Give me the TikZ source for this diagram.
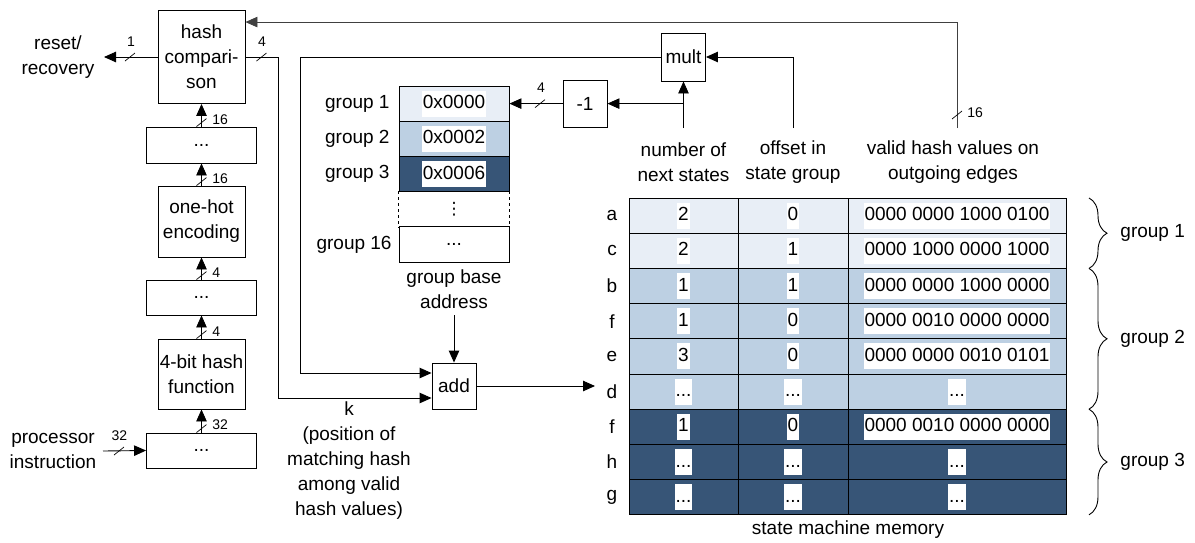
\documentclass[tikz,border=0pt]{standalone}
\usepackage{fontspec}
\setmainfont{Liberation Sans}
\newfontfamily\dejavu{DejaVu Sans}
\usetikzlibrary{arrows.meta,decorations.pathreplacing,calc}
\definecolor{gl}{HTML}{E8EEF6}
\definecolor{gm}{HTML}{BDD0E3}
\definecolor{gd}{HTML}{375577}
\newcommand\busslash[1]{\draw[line width=0.7pt] ($(#1)+(-5,4)$) -- ($(#1)+(5,-4)$);}
\newcommand\edots{...}
\begin{document}
\begin{tikzpicture}[x=1pt,y=-1pt,line width=0.9pt,
  every node/.style={font=\fontsize{19}{25}\selectfont, inner sep=0pt},
  box/.style={draw, align=center},
  small/.style={font=\fontsize{14}{16}\selectfont},
  arr/.style={-{Triangle[length=12pt,width=10.5pt]}},
  cell/.style={draw, minimum height=35.2},
  wbox/.style={fill=white, inner xsep=1pt, inner ysep=4pt, text height=14pt, text depth=4pt},
  grouptxt/.style={anchor=east},
  brc/.style={decorate, decoration={brace, amplitude=18pt}}]
\useasboundingbox (0,0) rectangle (1195,542);

% left column
\node[box, minimum width=87, minimum height=93] (hc) at (201.5,57) {hash\\compari-\\son};
\node[box, minimum width=110, minimum height=36] (d1) at (201.5,145) {...};
\node[box, minimum width=87, minimum height=71] (oh) at (201.5,221.5) {one-hot\\encoding};
\node[box, minimum width=110, minimum height=35] (d2) at (201.5,297.5) {...};
\node[box, minimum width=87, minimum height=70] (hf) at (201.5,374) {4-bit hash\\function};
\node[box, minimum width=110, minimum height=35] (d3) at (201.5,450.5) {...};

\node[align=center] (rr) at (58,57) {reset/\\recovery};
\node[align=center] (pi) at (53,451) {processor\\instruction};
\coordinate (rst) at (104,57);
\coordinate (pin) at (103,451);

\draw[arr] (d1.north) -- (hc.south);
\draw[arr] (oh.north) -- (d1.south);
\draw[arr] (d2.north) -- (oh.south);
\draw[arr] (hf.north) -- (d2.south);
\draw[arr] (d3.north) -- (hf.south);
\busslash{$(d1.north)+(0,-4)$}
\busslash{$(oh.north)+(0,-4)$}
\busslash{$(d2.north)+(0,-4)$}
\busslash{$(hf.north)+(0,-4)$}
\busslash{$(d3.north)+(0,-4)$}
\node[small, anchor=west] at (212,120) {16};
\node[small, anchor=west] at (212,179) {16};
\node[small, anchor=west] at (212,273) {4};
\node[small, anchor=west] at (212,332) {4};
\node[small, anchor=west] at (212,425) {32};

\draw[arr] (hc.west) -- (rst);
\busslash{130,57}
\node[small] at (131,42) {1};

\draw[arr] (pin) -- (d3.west);
\busslash{119,451}
\node[small] at (119.5,436) {32};

% group base address table
\node[cell, fill=gl, minimum width=110] (g1) at (454,103.6) {};
\node[cell, fill=gm, minimum width=110] (g2) at (454,138.8) {};
\node[cell, fill=gd, minimum width=110] (g3) at (454,174) {};
\node[minimum width=110, minimum height=35.2, font=\dejavu\fontsize{17}{20}\selectfont] (g4) at (454,209.2) {⋮};
\node[cell, minimum width=110] (g5) at (454,244.4) {...};
\draw[dashed] (g4.north west) -- (g4.south west);
\draw[dashed] (g4.north east) -- (g4.south east);
\node[wbox] at (g1) {0x0000};
\node[wbox] at (g2) {0x0002};
\node[wbox] at (g3) {0x0006};
\node[grouptxt] at (390,103.6) {group 1};
\node[grouptxt] at (390,138.8) {group 2};
\node[grouptxt] at (390,174) {group 3};
\node[grouptxt] at (392,244.4) {group 16};
\node[align=center] (gba) at (454,289.5) {group base\\address};
\coordinate (gbo) at (454,315);

% operators
\node[box, minimum width=44, minimum height=48] (mult) at (683.5,57) {mult};
\node[box, minimum width=44, minimum height=47] (m1) at (585,103.6) {-1};
\node[box, minimum width=44, minimum height=46] (add) at (454,386) {add};

% headers
\node[align=center] (h1) at (683.5,162) {number of\\next states};
\node[align=center] (h2) at (793,162) {offset in\\state group};
\node[align=center] (h3) at (953,162) {valid hash values on\\outgoing edges};
\coordinate (n1) at (683.5,128);
\coordinate (o1) at (793,128);
\coordinate (v16) at (957,128);

\draw[arr] (n1) -- (mult.south);
\draw[arr] (m1.east -| n1) -- (m1.east);
\draw[arr] (m1.west) -- (g1.east);
\busslash{540,103.6}
\node[small] at (541,88) {4};
\draw[arr] (o1) |- (mult.east);

\draw[arr, draw=black!75] (v16) |- ($(hc.north east)+(0,12)$);
\busslash{957,115}
\node[small, anchor=west] at (967,113) {16};

\coordinate (mk) at (300,57);
\draw[arr] (mult.west) -- (mk) |- ($(add.west)+(0,-13)$);
\coordinate (hk) at (278,57);
\draw[arr] (hc.east) -- (hk) |- ($(add.west)+(0,12)$);
\busslash{261.5,57}
\node[small] at (262,42) {4};
\draw[arr] (gbo) -- (add.north);
\coordinate (ain) at (595,386);
\draw[arr] (add.east) -- (ain);
\node[align=center] (k) at (349,460.5) {k\\(position of\\matching hash\\among valid\\hash values)};

% state machine memory
\foreach \lab/\col/\n/\o/\h [count=\i from 0] in {a/gl/2/0/0000 0000 1000 0100, c/gl/2/1/0000 1000 0000 1000, b/gm/1/1/0000 0000 1000 0000, f/gm/1/0/0000 0010 0000 0000, e/gm/3/0/0000 0000 0010 0101, d/gm/\edots/\edots/\edots, f/gd/1/0/0000 0010 0000 0000, h/gd/\edots/\edots/\edots, g/gd/\edots/\edots/\edots}{
  \pgfmathsetmacro\yy{215.6+35.2*\i}
  \node[cell, fill=\col, minimum width=109] (sa\i) at (683.5,\yy) {};
  \node[cell, fill=\col, minimum width=110] (sb\i) at (793,\yy) {};
  \node[cell, fill=\col, minimum width=218] (sc\i) at (957,\yy) {};
  \node[wbox] at (sa\i) {\n};
  \node[wbox] at (sb\i) {\o};
  \node[wbox] at (sc\i) {\h};
  \node (sl\i) at (612,\yy) {\lab};
}
\node (smm) at (848,530) {state machine memory};

\draw[brc] (1089,198) -- (1089,268.4);
\draw[brc] (1089,268.4) -- (1089,409.2);
\draw[brc] (1089,409.2) -- (1089,514.8);
\node[anchor=west] at (1120,233.2) {group 1};
\node[anchor=west] at (1120,338.8) {group 2};
\node[anchor=west] at (1120,462) {group 3};
\end{tikzpicture}
\end{document}
